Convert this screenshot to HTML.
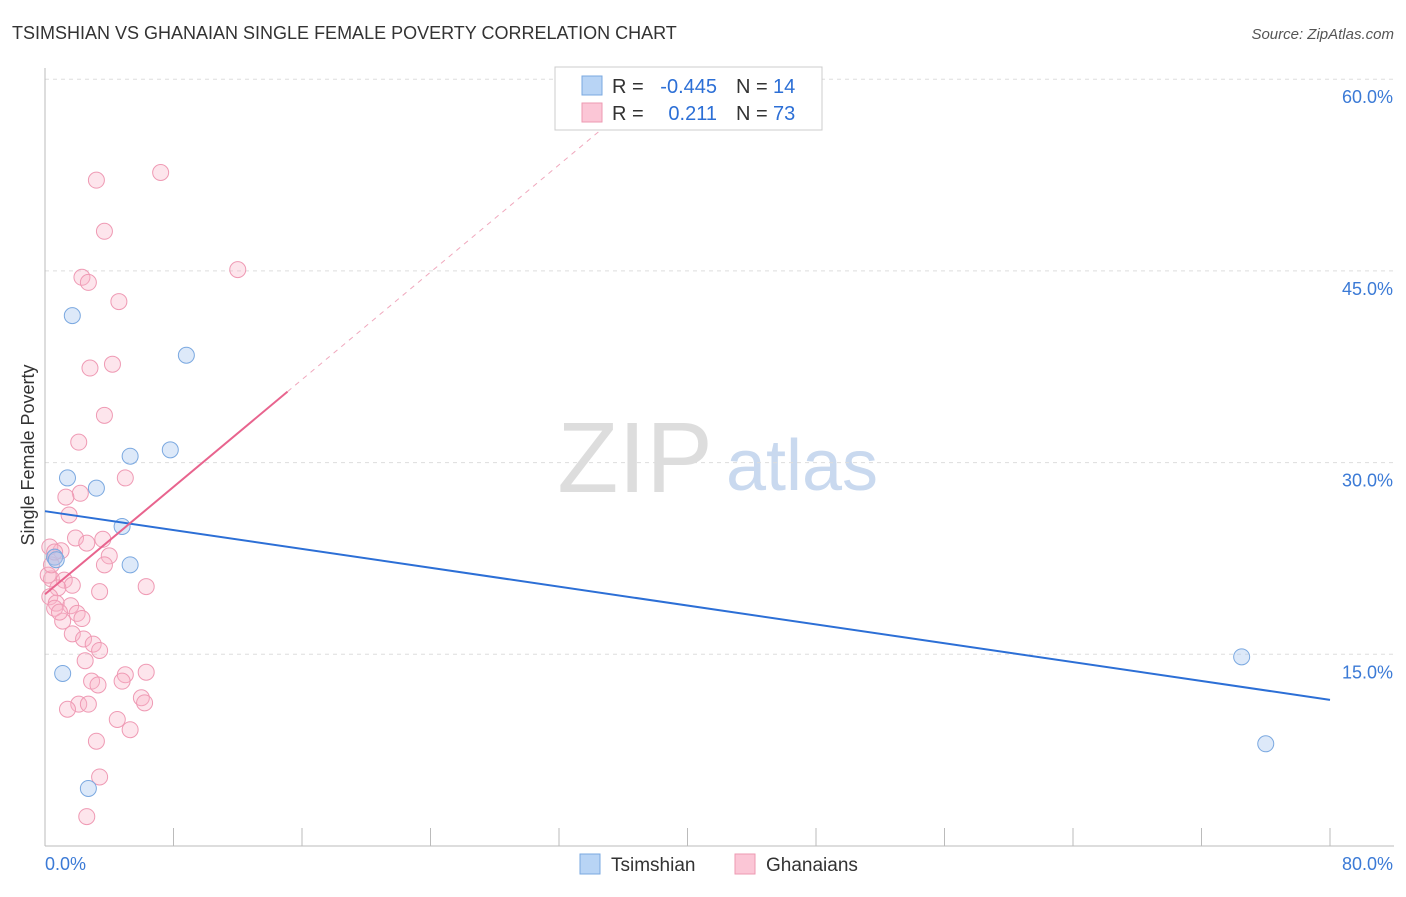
<!DOCTYPE html>
<html><head><meta charset="utf-8"><style>
body{margin:0;background:#fff;font-family:"Liberation Sans",sans-serif}
svg text{font-family:"Liberation Sans",sans-serif}
</style></head><body>
<svg width="1406" height="892" xmlns="http://www.w3.org/2000/svg">
<text x="12" y="39" font-size="18" fill="#333">TSIMSHIAN VS GHANAIAN SINGLE FEMALE POVERTY CORRELATION CHART</text>
<text x="1394" y="39" font-size="15" fill="#555" font-style="italic" text-anchor="end">Source: ZipAtlas.com</text>
<text x="635" y="492" font-size="100" fill="#ddd" text-anchor="middle" font-family="Liberation Serif">ZIP</text>
<text x="802" y="490" font-size="72" fill="#c9d9ef" text-anchor="middle">atlas</text>
<g id="grid"></g><g id="axes"></g><g id="marks"></g>
<text x="34" y="455" font-size="18" fill="#333" text-anchor="middle" transform="rotate(-90 34 455)">Single Female Poverty</text>
<g>
<rect x="555" y="67" width="267" height="63" fill="#fff" stroke="#ccc"/>
<rect x="582" y="76" width="20" height="19" fill="#b8d4f5" stroke="#7aa8e0"/>
<rect x="582" y="103" width="20" height="19" fill="#fbc6d6" stroke="#ee99b2"/>
<text x="612" y="93" font-size="20" fill="#333">R =</text>
<text x="717" y="93" font-size="20" fill="#2c6fd6" text-anchor="end">-0.445</text>
<text x="736" y="93" font-size="20" fill="#333">N =</text>
<text x="773" y="93" font-size="20" fill="#2c6fd6">14</text>
<text x="612" y="120" font-size="20" fill="#333">R =</text>
<text x="717" y="120" font-size="20" fill="#2c6fd6" text-anchor="end">0.211</text>
<text x="736" y="120" font-size="20" fill="#333">N =</text>
<text x="773" y="120" font-size="20" fill="#2c6fd6">73</text>
</g>
<g>
<rect x="580" y="854" width="20" height="20" fill="#b8d4f5" stroke="#7aa8e0"/>
<text x="611" y="871" font-size="19" fill="#333">Tsimshian</text>
<rect x="735" y="854" width="20" height="20" fill="#fbc6d6" stroke="#ee99b2"/>
<text x="766" y="871" font-size="19" fill="#333">Ghanaians</text>
</g>
</svg>
<script>
const xTicks=[0,80];
const yTicks=[15,30,45,60];
const tsimX=[0.6,1.4,1.7,3.2,5.3,7.8,8.8,4.8,5.3,1.1,2.7,74.5,76.0,0.7];
const tsimY=[22.6,28.8,41.5,28.0,30.5,31.0,38.4,25.0,22.0,13.5,4.5,14.8,8.0,22.4];
const ghX=[3.2,7.2,3.7,2.3,2.7,4.6,12.0,2.8,4.2,3.7,2.1,5.0,2.2,1.3,1.5,1.9,2.6,1.0,0.3,0.6,4.0,3.7,0.4,1.2,1.7,0.8,6.3,3.4,0.3,0.7,1.6,2.0,2.3,0.6,1.1,1.7,2.4,3.0,3.4,2.5,5.0,6.3,4.8,2.9,3.3,6.0,6.2,2.1,2.7,1.4,4.5,5.3,3.2,3.4,2.6,0.9,0.2,0.4,0.6,3.6];
const ghY=[52.1,52.7,48.1,44.5,44.1,42.6,45.1,37.4,37.7,33.7,31.6,28.8,27.6,27.3,25.9,24.1,23.7,23.1,23.4,22.6,22.7,22.0,20.9,20.8,20.4,20.2,20.3,19.9,19.5,19.0,18.8,18.2,17.8,18.6,17.6,16.6,16.2,15.8,15.3,14.5,13.4,13.6,12.9,12.9,12.6,11.6,11.2,11.1,11.1,10.7,9.9,9.1,8.2,5.4,2.3,18.3,21.2,22.0,23.0,24.0];
const NS="http://www.w3.org/2000/svg";
const X=v=>45+v/80*1285, Y=v=>846-v/15*191.7;
function mk(t,a,p){const e=document.createElementNS(NS,t);for(const k in a)e.setAttribute(k,a[k]);document.getElementById(p).appendChild(e);return e;}
yTicks.forEach(v=>{
 const l=mk('line',{x1:45,x2:1394,y1:Y(v),y2:Y(v),stroke:'#ddd','stroke-dasharray':'4,4'},'grid');
 
 
 const t=mk('text',{x:1393,y:Y(v)+24,'font-size':18,fill:'#3b7ad6','text-anchor':'end'},'grid');t.textContent=v.toFixed(1)+'%';
 
 
});
const ax=mk('line',{x1:45,x2:1394,y1:846,y2:846,stroke:'#bbb'},'axes');


const ay=mk('line',{x1:45,x2:45,y1:68,y2:846,stroke:'#bbb'},'axes');


for(let i=1;i<=10;i++){const t=mk('line',{x1:X(i*8),x2:X(i*8),y1:828,y2:846,stroke:'#bbb'},'axes');
 
 }
xTicks.forEach((v,i)=>{const t=mk('text',{x:i?1393:45,y:870,'font-size':18,fill:'#3b7ad6','text-anchor':i?'end':'start'},'axes');t.textContent=v.toFixed(1)+'%';
 
 });
function fit(xs,ys){const n=xs.length,mx=xs.reduce((a,b)=>a+b)/n,my=ys.reduce((a,b)=>a+b)/n;let sxy=0,sxx=0;xs.forEach((x,i)=>{sxy+=(x-mx)*(ys[i]-my);sxx+=(x-mx)**2});const b=sxy/sxx;return [my-b*mx,b];}
ghX.forEach((x,i)=>{const c=mk('circle',{cx:X(x),cy:Y(ghY[i]),r:8,fill:'rgba(248,180,200,0.35)',stroke:'#ef9ab4','stroke-width':1},'marks');
 
 });
tsimX.forEach((x,i)=>{const c=mk('circle',{cx:X(x),cy:Y(tsimY[i]),r:8,fill:'rgba(170,200,240,0.4)',stroke:'#7aa8e0','stroke-width':1},'marks');
 
 });
const [ba,bb]=fit(tsimX,tsimY);
const bl=mk('line',{x1:X(0),y1:Y(ba),x2:X(80),y2:Y(ba+bb*80),stroke:'#2c6fd6','stroke-width':2},'marks');


const pa=19.7, pb=1.05;
const pl=mk('line',{x1:X(0),y1:Y(pa),x2:X(15.1),y2:Y(pa+pb*15.1),stroke:'#e8648e','stroke-width':2},'marks');


const pd=mk('line',{x1:X(15.1),y1:Y(pa+pb*15.1),x2:X(34.5),y2:Y(pa+pb*34.5),stroke:'#f0a8bd','stroke-width':1,'stroke-dasharray':'5,5'},'marks');


</script>
</body></html>
